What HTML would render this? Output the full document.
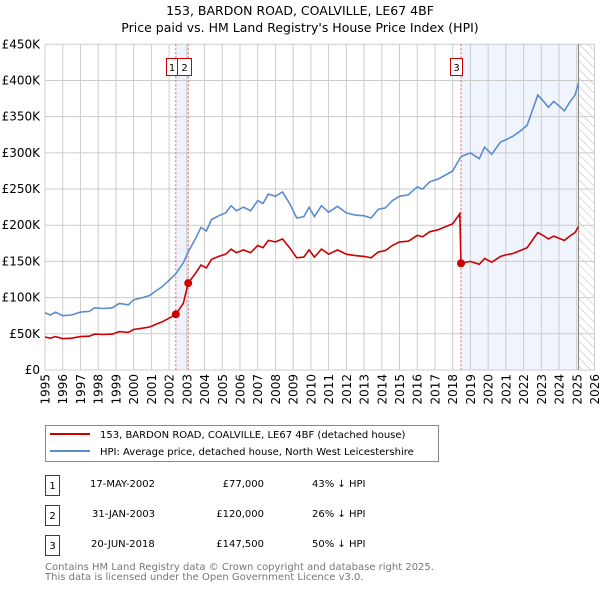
<!DOCTYPE html>
<html><head><meta charset="utf-8"><style>
body{margin:0;background:#fff;font-family:"DejaVu Sans","Liberation Sans",sans-serif;}
svg text{font-family:"DejaVu Sans","Liberation Sans",sans-serif;}
</style></head><body>
<svg id="chart" width="600" height="590" xmlns="http://www.w3.org/2000/svg">
<defs><pattern id="hatch" patternUnits="userSpaceOnUse" width="6" height="6" patternTransform="rotate(-45)"><line x1="0" y1="0" x2="0" y2="6" stroke="#bbb" stroke-width="1"/></pattern></defs>
<text x="300" y="15" text-anchor="middle" font-size="12.5">153, BARDON ROAD, COALVILLE, LE67 4BF</text>
<text x="300" y="32" text-anchor="middle" font-size="12.5">Price paid vs. HM Land Registry's House Price Index (HPI)</text>
<g id="plot"></g>
<g>
<rect x="45.5" y="425.5" width="393" height="36" fill="#fff" stroke="#888"/>
<line x1="50" y1="434" x2="90" y2="434" stroke="#cc0000" stroke-width="2"/>
<text x="100" y="438" font-size="10">153, BARDON ROAD, COALVILLE, LE67 4BF (detached house)</text>
<line x1="50" y1="451" x2="90" y2="451" stroke="#5b8bd0" stroke-width="2"/>
<text x="100" y="455" font-size="10">HPI: Average price, detached house, North West Leicestershire</text>
</g>
<g font-size="10">
<rect x="45.5" y="475.5" width="14" height="20" fill="none" stroke="#cc0000"/><text x="52.5" y="489" text-anchor="middle">1</text>
<text x="90" y="487">17-MAY-2002</text><text x="264" y="487" text-anchor="end">£77,000</text><text x="312" y="487">43% ↓ HPI</text>
<rect x="45.5" y="505.5" width="14" height="20" fill="none" stroke="#cc0000"/><text x="52.5" y="519" text-anchor="middle">2</text>
<text x="92" y="517">31-JAN-2003</text><text x="264" y="517" text-anchor="end">£120,000</text><text x="312" y="517">26% ↓ HPI</text>
<rect x="45.5" y="535.5" width="14" height="20" fill="none" stroke="#cc0000"/><text x="52.5" y="549" text-anchor="middle">3</text>
<text x="91" y="547">20-JUN-2018</text><text x="264" y="547" text-anchor="end">£147,500</text><text x="312" y="547">50% ↓ HPI</text>
</g>
<text x="45" y="570" font-size="10" fill="#777">Contains HM Land Registry data © Crown copyright and database right 2025.</text>
<text x="45" y="580" font-size="10" fill="#777">This data is licensed under the Open Government Licence v3.0.</text>
</svg>
<script>
const hpiYears=[1995.0,1995.3,1995.6,1996.0,1996.5,1997.0,1997.5,1997.8,1998.3,1998.8,1999.2,1999.7,2000.0,2000.5,2000.9,2001.3,2001.6,2002.0,2002.38,2002.8,2003.08,2003.5,2003.8,2004.1,2004.4,2004.8,2005.2,2005.5,2005.8,2006.2,2006.6,2007.0,2007.3,2007.6,2008.0,2008.4,2008.8,2009.2,2009.6,2009.9,2010.2,2010.6,2011.0,2011.5,2012.0,2012.5,2013.0,2013.4,2013.8,2014.2,2014.6,2015.0,2015.5,2016.0,2016.3,2016.7,2017.2,2017.5,2018.0,2018.47,2019.0,2019.5,2019.8,2020.2,2020.7,2021.0,2021.4,2021.8,2022.2,2022.8,2023.1,2023.4,2023.7,2024.0,2024.3,2024.6,2024.9,2025.1];
const hpiValues=[79,76,80,75,76,80,81,86,85,86,92,90,97,100,103,110,115,124,133,148,163,182,197,192,208,213,217,227,220,225,220,234,230,243,240,246,230,210,212,225,212,227,218,226,217,214,213,210,222,224,234,240,242,253,250,260,264,268,275,295,300,292,308,298,315,318,323,330,338,380,372,363,371,365,358,370,380,396];
const redYears=[1995.0,1995.3,1995.6,1996.0,1996.5,1997.0,1997.5,1997.8,1998.3,1998.8,1999.2,1999.7,2000.0,2000.5,2000.9,2001.3,2001.6,2002.0,2002.38,2002.8,2003.08,2003.5,2003.8,2004.1,2004.4,2004.8,2005.2,2005.5,2005.8,2006.2,2006.6,2007.0,2007.3,2007.6,2008.0,2008.4,2008.8,2009.2,2009.6,2009.9,2010.2,2010.6,2011.0,2011.5,2012.0,2012.5,2013.0,2013.4,2013.8,2014.2,2014.6,2015.0,2015.5,2016.0,2016.3,2016.7,2017.2,2017.5,2018.0,2018.4,2018.47,2019.0,2019.5,2019.8,2020.2,2020.7,2021.0,2021.4,2021.8,2022.2,2022.8,2023.1,2023.4,2023.7,2024.0,2024.3,2024.6,2024.9,2025.1];
const redValues=[45.6,43.9,46.2,43.3,43.9,46.2,46.7,49.6,49,49.6,53,51.9,56,57.7,59.4,63.5,66.4,71.5,77,92,120,134,145,141,153,157,160,167,162,166,162,172,169,179,177,181,169,155,156,166,156,167,160,166,160,158,157,155,163,165,172,177,178,186,184,191,194,197,202,216,147.5,150,146,154,149,157,159,161,165,169,190,186,181,185,182,179,185,190,198];
const saleYears=[2002.38,2003.08,2018.47];
const saleValues=[77,120,147.5];
const saleLabels=["1","2","3"];
const yTicks=[0,50,100,150,200,250,300,350,400,450];
const yTickLabels=["£0","£50K","£100K","£150K","£200K","£250K","£300K","£350K","£400K","£450K"];
const xTicks=[1995,1996,1997,1998,1999,2000,2001,2002,2003,2004,2005,2006,2007,2008,2009,2010,2011,2012,2013,2014,2015,2016,2017,2018,2019,2020,2021,2022,2023,2024,2025,2026];
const dataEnd=2025.1;

const X0=45,X1=594.5,Y0=370,Y1=44.3;
const xs=y=>X0+(y-1995)/(2026-1995)*(X1-X0);
const ys=v=>Y0-v/450*(Y0-Y1);
const NS="http://www.w3.org/2000/svg";
const g=document.getElementById('plot');
function mk(t,a){const e=document.createElementNS(NS,t);for(const k in a)e.setAttribute(k,a[k]);g.appendChild(e);return e;}
// shading
let e=mk('rect',{x:xs(saleYears[0]),y:Y1,width:xs(saleYears[1])-xs(saleYears[0]),height:Y0-Y1,fill:'#edf2fb'});


e=mk('rect',{x:xs(saleYears[2]),y:Y1,width:xs(dataEnd)-xs(saleYears[2]),height:Y0-Y1,fill:'#f0f4fc'});


e=mk('rect',{x:xs(dataEnd),y:Y1,width:X1-xs(dataEnd),height:Y0-Y1,fill:'url(#hatch)'});


// grid
yTicks.forEach((v,i)=>{
 let l=mk('line',{x1:X0,x2:X1,y1:ys(v),y2:ys(v),stroke:'#ccc','stroke-width':1});
 
 
 let t=mk('text',{x:40,y:ys(v)+4,'text-anchor':'end','font-size':12});
 
 
 t.textContent=yTickLabels[i];
});
xTicks.forEach(y=>{
 let l=mk('line',{x1:xs(y),x2:xs(y),y1:Y1,y2:Y0,stroke:'#ccc','stroke-width':1});
 
 
 let t=mk('text',{x:0,y:0,'text-anchor':'end','font-size':12,transform:`translate(${xs(y)+4.5},374) rotate(-90)`});
 
 
 t.textContent=y;
});
e=mk('line',{x1:xs(dataEnd),x2:xs(dataEnd),y1:Y1,y2:Y0,stroke:'#888','stroke-width':1});


// sale vlines
saleYears.forEach(y=>{
 let l=mk('line',{x1:xs(y),x2:xs(y),y1:Y1,y2:Y0,stroke:'#e06060','stroke-width':1,'stroke-dasharray':'2,2'});
 
 
});
// lines
const pts=(xa,va)=>xa.map((y,i)=>xs(y).toFixed(1)+','+ys(va[i]).toFixed(1)).join(' ');
e=mk('polyline',{points:pts(hpiYears,hpiValues),fill:'none',stroke:'#5b8bd0','stroke-width':1.6});


e=mk('polyline',{points:pts(redYears,redValues),fill:'none',stroke:'#cc0000','stroke-width':1.6});


saleYears.forEach((y,i)=>{
 let c=mk('circle',{cx:xs(y),cy:ys(saleValues[i]),r:4,fill:'#cc0000'});
 
 
});
// label boxes
const boxX=[166,177,450];
saleLabels.forEach((s,i)=>{
 let w=i==1?14:12;
 let r=mk('rect',{x:boxX[i]+0.5,y:58.5,width:i==0?11:w,height:17,fill:'#fff',stroke:'#cc0000'});
 
 
 let t=mk('text',{x:boxX[i]+(i==0?6:w/2+0.5),y:71,'text-anchor':'middle','font-size':10});
 
 
 t.textContent=s;
});
</script>
</body></html>
